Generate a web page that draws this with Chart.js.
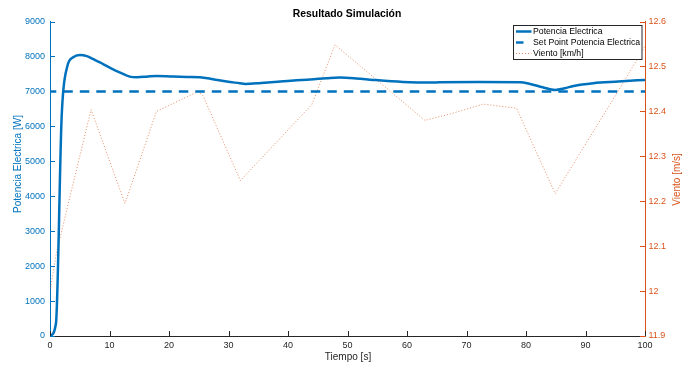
<!DOCTYPE html>
<html>
<head>
<meta charset="utf-8">
<script src="https://cdn.jsdelivr.net/npm/chart.js@4/dist/chart.umd.min.js"></script>
<style>
  html, body { margin: 0; padding: 0; background: #ffffff; }
  canvas { display: block; }
</style>
</head>
<body>
<canvas id="chart" width="695" height="366"></canvas>
<script>
// Electric power response (W) over simulation time (s)
const powerTime = [0, 1.0, 1.96, 2.9, 3.9, 5.0, 6.2, 7.3, 8.4, 9.5, 10.6, 11.8, 13.4, 14.6, 16.2, 17.9, 20.7, 23.0, 25.2, 27.4, 29.7, 31.9, 32.8, 35.5, 38.7, 41.5, 44.3, 46.5, 48.7, 51.5, 54.3, 59.3, 63.9, 65.5, 72.0, 79.0, 80.7, 82.8, 84.9, 86.5, 88.0, 91.3, 95.5, 100];
const powerW    = [0, 357, 6280, 7710, 7977, 8043, 8010, 7920, 7830, 7729, 7630, 7537, 7423, 7406, 7420, 7443, 7423, 7414, 7406, 7349, 7280, 7234, 7214, 7240, 7280, 7318, 7349, 7375, 7394, 7370, 7329, 7271, 7251, 7263, 7268, 7263, 7214, 7120, 7043, 7090, 7157, 7234, 7280, 7329];

// Power set point (W)
const setPointTime = [0, 100];
const setPointW    = [7000, 7000];

// Wind speed samples (right axis)
const windTime = [0, 1.1, 6.9, 12.6, 17.9, 24.9, 25.7, 32.0, 44.0, 47.9, 63.0, 67.2, 72.8, 78.4, 84.9, 94.6, 100];
const windMs   = [12.0, 12.086, 12.404, 12.195, 12.40, 12.444, 12.435, 12.246, 12.415, 12.548, 12.38, 12.394, 12.416, 12.407, 12.217, 12.426, 12.545];

// Axis ranges and labels
const timeRange  = [0, 100, 10];
const powerRange = [0, 9000, 1000];
const windRange  = [11.9, 12.6, 0.1];
const chartTitle = 'Resultado Simulación';
const xTitle = 'Tiempo [s]';
const yLeftTitle = 'Potencia Electrica [W]';
const yRightTitle = 'Viento [m/s]';
const seriesNames = ['Potencia Electrica', 'Set Point Potencia Electrica', 'Viento [km/h]'];

const FONT = "'Liberation Sans', Arial, Helvetica, sans-serif";
const BLUE = '#0072BD';
const ORANGE = '#D95319';
const DARK = '#262626';

const toXY = (xs, ys) => xs.map((x, i) => ({ x: x, y: ys[i] }));

// Inward tick marks, axis titles, title and an in-plot legend box
const axesDecor = {
  id: 'axesDecor',
  afterDatasetsDraw(chart) {
    const ctx = chart.ctx;
    const area = chart.chartArea;
    const sx = chart.scales.x, yl = chart.scales.y, yr = chart.scales.y1;
    const tick = 5;
    ctx.save();
    ctx.lineWidth = 1;

    ctx.strokeStyle = DARK;
    sx.ticks.forEach(t => {
      const px = Math.round(sx.getPixelForValue(t.value)) + 0.5;
      ctx.beginPath(); ctx.moveTo(px, area.bottom); ctx.lineTo(px, area.bottom - tick); ctx.stroke();
    });
    ctx.strokeStyle = BLUE;
    yl.ticks.forEach(t => {
      const py = Math.round(yl.getPixelForValue(t.value)) + 0.5;
      ctx.beginPath(); ctx.moveTo(area.left, py); ctx.lineTo(area.left + tick, py); ctx.stroke();
    });
    ctx.strokeStyle = ORANGE;
    yr.ticks.forEach(t => {
      const py = Math.round(yr.getPixelForValue(t.value)) + 0.5;
      ctx.beginPath(); ctx.moveTo(area.right, py); ctx.lineTo(area.right - tick, py); ctx.stroke();
    });

    // legend box
    const lx = 513.5, ly = 25.5, lw = 128.5, lh = 34;
    ctx.fillStyle = '#ffffff';
    ctx.fillRect(lx, ly, lw, lh);
    ctx.strokeStyle = DARK;
    ctx.lineWidth = 1;
    ctx.strokeRect(lx, ly, lw, lh);
    ctx.font = '8.7px ' + FONT;
    ctx.textBaseline = 'middle';
    ctx.textAlign = 'left';
    const rows = [31.5, 42.5, 53.5];
    chart.data.datasets.forEach((ds, i) => {
      const y = rows[i];
      ctx.save();
      ctx.strokeStyle = ds.borderColor;
      ctx.lineWidth = ds.borderWidth;
      ctx.beginPath();
      if (i === 1) {
        ctx.moveTo(516, y); ctx.lineTo(523.5, y);
      } else {
        if (ds.borderDash) ctx.setLineDash(ds.borderDash);
        ctx.moveTo(516, y); ctx.lineTo(531.5, y);
      }
      ctx.stroke();
      ctx.restore();
      ctx.fillStyle = '#000000';
      ctx.fillText(ds.label, 533, y + 0.5);
    });

    // chart title
    ctx.fillStyle = '#000000';
    ctx.font = 'bold 10.4px ' + FONT;
    ctx.textAlign = 'center';
    ctx.textBaseline = 'middle';
    ctx.fillText(chartTitle, 347, 14);

    // axis titles
    ctx.font = '10px ' + FONT;
    ctx.fillStyle = DARK;
    ctx.fillText(xTitle, 348, 357.5);

    ctx.save();
    ctx.fillStyle = BLUE;
    ctx.translate(18, 164);
    ctx.rotate(-Math.PI / 2);
    ctx.fillText(yLeftTitle, 0, 0);
    ctx.restore();

    ctx.save();
    ctx.fillStyle = ORANGE;
    ctx.translate(677, 179.5);
    ctx.rotate(-Math.PI / 2);
    ctx.fillText(yRightTitle, 0, 0);
    ctx.restore();

    ctx.restore();
  }
};

const tickFont = { family: FONT, size: 9 };

new Chart(document.getElementById('chart'), {
  type: 'line',
  data: {
    datasets: [
      {
        label: seriesNames[0],
        data: toXY(powerTime, powerW),
        yAxisID: 'y',
        borderColor: BLUE,
        borderWidth: 2.5,
        pointRadius: 0,
        cubicInterpolationMode: 'monotone',
        fill: false
      },
      {
        label: seriesNames[1],
        data: toXY(setPointTime, setPointW),
        yAxisID: 'y',
        borderColor: BLUE,
        borderWidth: 2.5,
        borderDash: [9.5, 7],
        borderDashOffset: 3.2,
        borderCapStyle: 'butt',
        pointRadius: 0,
        tension: 0,
        fill: false
      },
      {
        label: seriesNames[2],
        data: toXY(windTime, windMs),
        yAxisID: 'y1',
        borderColor: 'rgba(217,83,25,0.75)',
        borderWidth: 0.9,
        borderDash: [1, 2],
        pointRadius: 0,
        tension: 0,
        fill: false
      }
    ]
  },
  options: {
    responsive: false,
    devicePixelRatio: 1,
    animation: false,
    events: [],
    layout: { padding: { top: 21.5, left: 0, right: 0, bottom: 0 } },
    plugins: {
      legend: { display: false },
      title: { display: false },
      tooltip: { enabled: false }
    },
    scales: {
      x: {
        type: 'linear',
        position: 'bottom',
        min: timeRange[0],
        max: timeRange[1],
        ticks: { stepSize: timeRange[2], color: DARK, font: tickFont, padding: 4, maxRotation: 0, autoSkip: false,
          callback: v => String(v) },
        grid: { display: true, drawOnChartArea: false, drawTicks: false },
        border: { display: true, color: DARK, width: 1 },
        afterFit: s => { s.height = 30; }
      },
      y: {
        type: 'linear',
        position: 'left',
        min: powerRange[0],
        max: powerRange[1],
        ticks: { stepSize: powerRange[2], color: BLUE, font: tickFont, padding: 5, autoSkip: false,
          callback: v => String(v) },
        grid: { display: true, drawOnChartArea: false, drawTicks: false },
        border: { display: true, color: BLUE, width: 1 },
        afterFit: s => { s.width = 50; }
      },
      y1: {
        type: 'linear',
        position: 'right',
        min: windRange[0],
        max: windRange[1],
        ticks: {
          stepSize: windRange[2], color: ORANGE, font: tickFont, padding: 3.5, autoSkip: false,
          callback: v => String(Number(v.toFixed(1)))
        },
        grid: { display: true, drawOnChartArea: false, drawTicks: false },
        border: { display: true, color: ORANGE, width: 1 },
        afterFit: s => { s.width = 50; }
      }
    }
  },
  plugins: [axesDecor]
});
</script>
</body>
</html>
